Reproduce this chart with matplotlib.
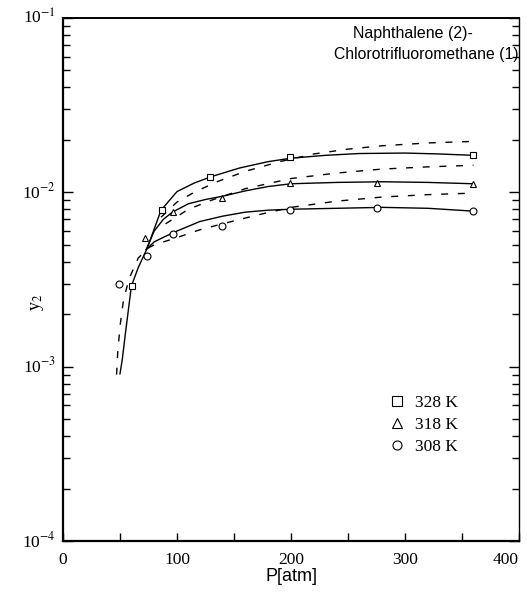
import matplotlib
matplotlib.use("Agg")
import matplotlib.pyplot as plt
from matplotlib.lines import Line2D
from matplotlib.ticker import LogLocator, NullFormatter, MultipleLocator, FixedLocator

# solid curves
p_328 = [50, 52, 55, 60, 66, 74, 86, 100, 115, 130, 155, 180, 200, 230, 260, 300, 330, 360]
y_328 = [0.00091, 0.0011, 0.0016, 0.0029, 0.0037, 0.0048, 0.0079, 0.0101, 0.0113, 0.0123,
         0.0138, 0.0150, 0.0157, 0.0163, 0.0167, 0.0168, 0.0166, 0.0163]
p_318 = [73, 80, 88, 96, 110, 125, 140, 160, 180, 200, 240, 280, 320, 360]
y_318 = [0.0047, 0.0060, 0.0070, 0.0077, 0.0086, 0.0091, 0.0095, 0.0102, 0.0108, 0.0112,
         0.0114, 0.0115, 0.0114, 0.0112]
p_308 = [73, 80, 90, 100, 120, 140, 160, 180, 200, 240, 280, 320, 360]
y_308 = [0.0047, 0.0052, 0.0056, 0.0060, 0.0068, 0.0073, 0.0077, 0.0079, 0.0080, 0.0081,
         0.0082, 0.0081, 0.0078]

# dashed curves
pd_328 = [86, 100, 115, 135, 160, 190, 220, 250, 280, 320, 360]
yd_328 = [0.0072, 0.0088, 0.0100, 0.0115, 0.0132, 0.0150, 0.0166, 0.0177, 0.0185, 0.0192, 0.0196]
pd_318 = [90, 110, 130, 160, 200, 240, 280, 320, 360]
yd_318 = [0.0066, 0.0080, 0.0090, 0.0105, 0.0120, 0.0129, 0.0136, 0.0140, 0.0143]
pd_308 = [47, 48, 50, 53, 58, 66, 75, 80, 100, 120, 140, 170, 200, 240, 280, 320, 360]
yd_308 = [0.0009, 0.0012, 0.0017, 0.0024, 0.0032, 0.0042, 0.0048, 0.0050, 0.0055, 0.0061,
          0.0066, 0.0074, 0.0082, 0.0089, 0.0094, 0.0097, 0.0099]

# experimental points
pts_328_p = [60.5, 86.6, 129, 199, 360]
pts_328_y = [0.0029, 0.0079, 0.0122, 0.0159, 0.0163]
pts_318_p = [72, 96.5, 139.5, 199, 275, 360]
pts_318_y = [0.0055, 0.0077, 0.0093, 0.0113, 0.0113, 0.0112]
pts_308_p = [49, 73.5, 96.5, 139.5, 199, 275, 360]
pts_308_y = [0.0030, 0.0043, 0.0058, 0.0064, 0.0079, 0.0081, 0.0078]

x_labels = ["0", "100", "200", "300", "400"]
legend_labels = ["328 K", "318 K", "308 K"]

serif = "Liberation Serif"
sans = "Liberation Sans"

fig = plt.figure(figsize=(5.27, 5.92), dpi=100)
ax = fig.add_axes([0.1195, 0.0861, 0.8655, 0.8835])

for p, y in [(p_328, y_328), (p_318, y_318), (p_308, y_308)]:
    ax.plot(p, y, color="black", lw=1.0)
for p, y in [(pd_328, yd_328), (pd_318, yd_318), (pd_308, yd_308)]:
    ax.plot(p, y, color="black", lw=1.0, dashes=(5, 7))

mk = dict(ls="none", mfc="white", mec="black", mew=0.8, ms=5)
ax.plot(pts_328_p, pts_328_y, marker="s", **mk)
ax.plot(pts_318_p, pts_318_y, marker="^", **mk)
ax.plot(pts_308_p, pts_308_y, marker="o", **mk)

ax.set_yscale("log")
ax.set_xlim(0, 400)
ax.set_ylim(1e-4, 1e-1)

ax.xaxis.set_major_locator(FixedLocator([0, 100, 200, 300, 400]))
ax.xaxis.set_minor_locator(MultipleLocator(50))
ax.yaxis.set_major_locator(LogLocator(base=10, numticks=10))
ax.yaxis.set_minor_locator(LogLocator(base=10, subs=range(2, 10), numticks=20))
ax.yaxis.set_minor_formatter(NullFormatter())
ax.set_yticklabels([])
ax.tick_params(axis="both", which="both", direction="in")
ax.tick_params(axis="x", which="major", length=6, width=1, pad=8)
ax.tick_params(axis="x", which="minor", length=6, width=1)
ax.tick_params(axis="y", which="major", length=7, width=1, right=True)
ax.tick_params(axis="y", which="minor", length=5, width=1, right=True)

ax.set_xticklabels(x_labels, fontfamily=serif, fontsize=12.5)
ax.get_xticklabels()[-1].set_horizontalalignment("right")
for e in [-1, -2, -3, -4]:
    ax.text(-0.015, (e + 4) / 3.0, r"10$^{%d}$" % e, transform=ax.transAxes,
            ha="right", va="center", fontfamily=serif, fontsize=12.5,
            math_fontfamily="stix")

ax.spines["left"].set_linewidth(1.6)
ax.spines["bottom"].set_linewidth(1.6)
ax.spines["right"].set_linewidth(1.0)
ax.spines["top"].set_linewidth(1.4)

ax.set_xlabel("P[atm]", fontfamily=sans, fontsize=13, labelpad=0)
fig.text(0.072, 0.49, r"y$_2$", rotation=90, ha="center", va="center",
         fontfamily=serif, fontsize=13, math_fontfamily="stix")

ax.text(0.768, 0.985, "Naphthalene (2)-", transform=ax.transAxes, ha="center", va="top",
        fontfamily=sans, fontsize=11.5)
ax.text(0.998, 0.945, "Chlorotrifluoromethane (1)", transform=ax.transAxes, ha="right",
        va="top", fontfamily=sans, fontsize=11.3)

handles = [
    Line2D([], [], marker="s", **dict(mk, ms=6.5)),
    Line2D([], [], marker="^", **dict(mk, ms=6.5)),
    Line2D([], [], marker="o", **dict(mk, ms=6.5)),
]
leg = ax.legend(handles, legend_labels, loc="center left",
                bbox_to_anchor=(0.68, 0.222), frameon=False, handlelength=1.0,
                handletextpad=0.5, labelspacing=0.35, prop={"family": serif, "size": 12.5})

fig.savefig("out.png", dpi=100)
